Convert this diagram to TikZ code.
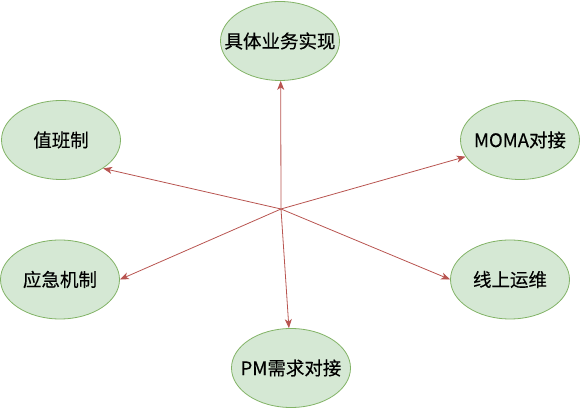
\documentclass[tikz,border=0pt]{standalone}
\usepackage{fontspec}
\setmainfont{Noto Sans CJK SC}[FakeBold=0.3]
\usetikzlibrary{shapes.geometric,arrows.meta}
\definecolor{gfill}{HTML}{D5E8D4}
\definecolor{gline}{HTML}{82B366}
\definecolor{rline}{HTML}{B85450}
\newcommand{\zwtext}[1]{\makebox[0pt][c]{#1}}
\begin{document}
\begin{tikzpicture}[x=1pt,y=-1pt,
  topic/.style={ellipse, draw=gline, fill=gfill, line width=0.8pt,
    minimum width=119pt, minimum height=79pt, inner sep=0pt,
    font=\fontsize{18.5}{21}\selectfont},
  link/.style={draw=rline, line width=0.8pt, -{Stealth[length=9pt,width=7pt,inset=2.5pt]}}]
\useasboundingbox (0,0) rectangle (581,411);
\node[topic] (top) at (280,41) {\zwtext{具体业务实现}};
\node[topic] (duty) at (61,140) {\zwtext{值班制}};
\node[topic] (moma) at (520,140) {\zwtext{MOMA对接}};
\node[topic] (emerg) at (60,279.5) {\zwtext{应急机制}};
\node[topic] (ops) at (510,279.5) {\zwtext{线上运维}};
\node[topic] (pm) at (291,368) {\zwtext{PM需求对接}};
\coordinate (c) at (281,209);
\draw[link] (c) -- (top.-89);
\draw[link] (c) -- (duty.-34);
\draw[link] (c) -- (moma.197);
\draw[link] (c) -- (emerg.0);
\draw[link] (c) -- (ops.180);
\draw[link] (c) -- (pm.93);
\end{tikzpicture}
\end{document}
